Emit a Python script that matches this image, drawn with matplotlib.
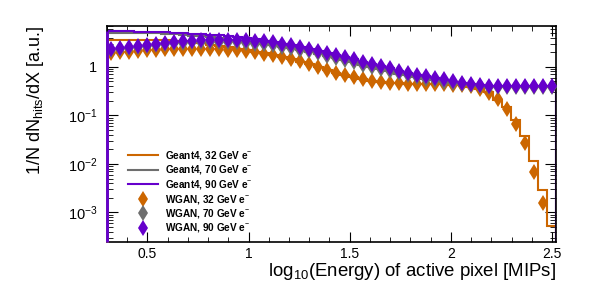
import numpy as np
import matplotlib
matplotlib.use("Agg")
import matplotlib.pyplot as plt
from matplotlib.ticker import MultipleLocator, LogLocator, FuncFormatter, NullFormatter

plt.rcParams['font.family'] = ['Liberation Sans', 'DejaVu Sans']
plt.rcParams['mathtext.fontset'] = 'custom'
plt.rcParams['mathtext.rm'] = 'Liberation Sans'
plt.rcParams['mathtext.it'] = 'Liberation Sans:italic'
plt.rcParams['mathtext.bf'] = 'Liberation Sans:bold'

# 50 bins of log10(E / MIP)
bin_edges = np.linspace(0.3, 2.52, 51)

# Geant4 histograms (1/N dN/dX)
g4_32 = [3.55, 3.55, 3.59, 3.59, 3.59, 3.55, 3.51, 3.43, 3.31, 3.16,
         3.02, 2.85, 2.69, 2.51, 2.34, 2.19, 2.04, 1.88, 1.74, 1.58,
         1.43, 1.27, 1.12, 0.989, 0.861, 0.759, 0.676, 0.610, 0.556, 0.513,
         0.484, 0.468, 0.457, 0.447, 0.442, 0.442, 0.437, 0.437, 0.427, 0.412,
         0.389, 0.347, 0.295, 0.209, 0.147, 0.0805, 0.0378, 0.0112, 0.00284, 0.000519]
g4_70 = [4.90, 4.90, 4.90, 4.84, 4.84, 4.84, 4.73, 4.62, 4.52, 4.37,
         4.22, 4.03, 3.85, 3.63, 3.43, 3.24, 3.05, 2.88, 2.75, 2.60,
         2.43, 2.24, 2.04, 1.86, 1.68, 1.51, 1.36, 1.23, 1.10, 0.989,
         0.891, 0.804, 0.724, 0.661, 0.610, 0.562, 0.525, 0.490, 0.457, 0.432,
         0.412, 0.398, 0.385, 0.376, 0.376, 0.376, 0.376, 0.376, 0.380, 0.385]
g4_90 = [5.37, 5.37, 5.37, 5.25, 5.25, 5.13, 5.13, 5.01, 4.90, 4.79,
         4.68, 4.57, 4.42, 4.27, 4.07, 3.89, 3.67, 3.43, 3.20, 2.95,
         2.75, 2.54, 2.34, 2.14, 1.93, 1.74, 1.57, 1.41, 1.26, 1.135,
         1.02, 0.923, 0.822, 0.750, 0.684, 0.631, 0.582, 0.543, 0.495, 0.457,
         0.432, 0.417, 0.403, 0.394, 0.394, 0.394, 0.394, 0.394, 0.398, 0.403]

# WGAN generated showers
wgan_32 = [1.88, 1.97, 2.03, 2.10, 2.17, 2.23, 2.27, 2.31, 2.34, 2.34,
           2.34, 2.32, 2.27, 2.23, 2.17, 2.09, 1.98, 1.86, 1.74, 1.60,
           1.45, 1.29, 1.135, 1.00, 0.871, 0.759, 0.676, 0.610, 0.556, 0.513,
           0.479, 0.462, 0.452, 0.442, 0.437, 0.437, 0.437, 0.432, 0.427, 0.417,
           0.398, 0.355, 0.284, 0.214, 0.133, 0.0665, 0.0275, 0.00676, 0.00158, np.nan]
wgan_70 = [2.24, 2.34, 2.45, 2.57, 2.72, 2.82, 2.95, 3.05, 3.13, 3.20,
           3.24, 3.24, 3.24, 3.20, 3.16, 3.09, 2.99, 2.88, 2.75, 2.60,
           2.43, 2.24, 2.07, 1.88, 1.70, 1.53, 1.38, 1.24, 1.11, 1.00,
           0.902, 0.813, 0.733, 0.668, 0.617, 0.569, 0.531, 0.495, 0.462, 0.437,
           0.417, 0.403, 0.389, 0.380, 0.380, 0.380, 0.380, 0.380, 0.385, 0.389]
wgan_90 = [2.29, 2.40, 2.51, 2.66, 2.82, 2.95, 3.09, 3.24, 3.35, 3.47,
           3.55, 3.59, 3.63, 3.63, 3.59, 3.51, 3.43, 3.31, 3.16, 2.99,
           2.79, 2.57, 2.37, 2.16, 1.95, 1.76, 1.58, 1.43, 1.27, 1.15,
           1.035, 0.933, 0.832, 0.759, 0.692, 0.638, 0.589, 0.550, 0.501, 0.462,
           0.437, 0.422, 0.407, 0.398, 0.398, 0.398, 0.398, 0.398, 0.403, 0.407]

labels_g4 = [r'Geant4, 32 GeV e$^{-}$', r'Geant4, 70 GeV e$^{-}$', r'Geant4, 90 GeV e$^{-}$']
labels_wgan = [r'WGAN, 32 GeV e$^{-}$', r'WGAN, 70 GeV e$^{-}$', r'WGAN, 90 GeV e$^{-}$']
colors = ['#cc6600', '#6e6e6e', '#6600cc']

ymin, ymax = 2.5e-4, 7.0

fig = plt.figure(figsize=(6.10, 2.97), dpi=100)
ax = fig.add_axes([107 / 610, 1 - 241.7 / 297, 449 / 610, 216 / 297])

centers = 0.5 * (bin_edges[:-1] + bin_edges[1:])

handles = []
for vals, col, lab in zip([g4_32, g4_70, g4_90], colors, labels_g4):
    h = ax.stairs(vals, bin_edges, color=col, lw=1.5, zorder=2, label=lab)
    # histogram rises from the bottom at the left edge
    ax.vlines(bin_edges[0], ymin, vals[0], color=col, lw=2.0, zorder=4, clip_on=False)
    handles.append(h)

for vals, col, lab in zip([wgan_32, wgan_70, wgan_90], colors, labels_wgan):
    h, = ax.plot(centers, vals, ls='none', marker='d', ms=8, color=col,
                 markeredgewidth=0, zorder=3, label=lab)
    handles.append(h)

ax.set_yscale('log')
ax.set_xlim(bin_edges[0], bin_edges[-1])
ax.set_ylim(ymin, ymax)

ax.xaxis.set_major_locator(MultipleLocator(0.5))
ax.xaxis.set_minor_locator(MultipleLocator(0.1))
ax.yaxis.set_major_locator(LogLocator(base=10))
ax.yaxis.set_minor_locator(LogLocator(base=10, subs=np.arange(2, 10)))
ax.yaxis.set_minor_formatter(NullFormatter())


def ylab(v, pos):
    e = int(round(np.log10(v)))
    if e == 0:
        return '1'
    return r'10$^{%d}$' % e


ax.yaxis.set_major_formatter(FuncFormatter(ylab))
ax.xaxis.set_major_formatter(FuncFormatter(lambda v, p: ('%g' % v)))

ax.tick_params(which='both', direction='in', top=True, right=True, labelsize=10.5)
ax.tick_params(axis='y', which='major', length=8, pad=7)
ax.tick_params(axis='y', which='minor', length=4)
ax.tick_params(axis='x', which='major', length=7, pad=4, labelsize=10)
ax.tick_params(axis='x', which='minor', length=3.5)
for sp in ax.spines.values():
    sp.set_linewidth(1.2)

ax.set_xlabel(r'log$_{10}$(Energy) of active pixel [MIPs]', fontsize=13.4, loc='right')
ax.xaxis.set_label_coords(1.0, -0.09)
ax.xaxis.label.set_va('top')
ax.set_ylabel(r'1/N dN$_{\mathrm{hits}}$/dX [a.u.]', fontsize=13, loc='top')
ax.yaxis.set_label_coords(-0.135, 1.0)

leg = ax.legend(handles=handles, loc='upper left', frameon=False,
                bbox_to_anchor=(128 / 610, 1 - 149 / 297), bbox_transform=fig.transFigure,
                prop={'size': 7.2, 'weight': 'bold'}, handlelength=3.0, handletextpad=0.7,
                labelspacing=0.15, borderpad=0, borderaxespad=0)

fig.savefig('out.png', dpi=100)
